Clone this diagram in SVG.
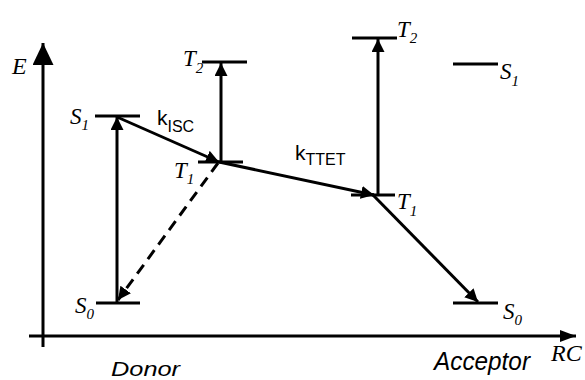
<svg xmlns="http://www.w3.org/2000/svg" width="585" height="380" viewBox="0 0 585 380">
<style>
.lvl{stroke:#000;stroke-width:3;fill:none}
.ax{stroke:#000;stroke-width:3;fill:none}
.c{stroke:#000;stroke-width:3;fill:none}
.dash{stroke-dasharray:11 7}
.ser{font-family:"Liberation Serif","Times New Roman",serif;font-style:italic;fill:#000}
.big{font-size:23px}
.sub{font-size:15px}
.sans{font-family:"Liberation Sans",Arial,sans-serif;fill:#000}
</style>
<defs>
<marker id="ah" markerUnits="userSpaceOnUse" markerWidth="14" markerHeight="14" refX="13" refY="6.5" orient="auto" viewBox="0 0 14 14">
<path d="M0,0 L13,6.5 L0,13 z" fill="#000"/>
</marker>
<marker id="axy" markerUnits="userSpaceOnUse" markerWidth="24" markerHeight="24" refX="22" refY="10.5" orient="auto" viewBox="0 0 24 24">
<path d="M0,0 L22,10.5 L0,21 z" fill="#000"/>
</marker>
<marker id="axx" markerUnits="userSpaceOnUse" markerWidth="18" markerHeight="14" refX="16" refY="6" orient="auto" viewBox="0 0 18 14">
<path d="M0,0 L16,6 L0,12 z" fill="#000"/>
</marker>
</defs>
<rect width="585" height="380" fill="#fff"/>
<g id="axes">
<line class="ax" x1="43" y1="347" x2="43" y2="43" marker-end="url(#axy)"/>
<line class="ax" x1="29" y1="336" x2="576" y2="336" marker-end="url(#axx)"/>
<text class="ser" x="12" y="74" font-size="24">E</text>
<text class="ser" x="551" y="361" font-size="24">RC</text>
<text class="sans" x="111" y="376" font-size="21" font-style="italic" textLength="69" lengthAdjust="spacingAndGlyphs">Donor</text>
<text class="sans" x="434" y="370" font-size="26" font-style="italic" textLength="96" lengthAdjust="spacingAndGlyphs">Acceptor</text>
</g>
<g id="connectors">
<line class="c" x1="117" y1="302" x2="117" y2="117" marker-end="url(#ah)"/>
<line class="c" x1="117" y1="117" x2="219" y2="162" marker-end="url(#ah)"/>
<line class="c" x1="221" y1="162" x2="221" y2="63" marker-end="url(#ah)"/>
<line class="c dash" x1="218" y1="163" x2="118" y2="300" marker-end="url(#ah)"/>
<line class="c" x1="219" y1="162" x2="374" y2="195" marker-end="url(#ah)"/>
<line class="c" x1="378" y1="195" x2="378" y2="39" marker-end="url(#ah)"/>
<line class="c" x1="372" y1="194" x2="478" y2="302" marker-end="url(#ah)"/>
<text class="sans" x="157" y="125" font-size="21">k<tspan font-size="16" dy="7">ISC</tspan></text>
<text class="sans" x="295" y="160" font-size="21">k<tspan font-size="16" dy="5">TTET</tspan></text>
</g>
<g id="donor-S1">
<line class="lvl" x1="95" y1="116" x2="140" y2="116"/>
<text class="ser big" x="70" y="124">S<tspan class="sub" dy="6">1</tspan></text>
</g>
<g id="donor-S0">
<line class="lvl" x1="96" y1="303" x2="140" y2="303"/>
<text class="ser big" x="75" y="313">S<tspan class="sub" dy="6">0</tspan></text>
</g>
<g id="donor-T1">
<line class="lvl" x1="198" y1="162" x2="243" y2="162"/>
<text class="ser big" x="174" y="178">T<tspan class="sub" dy="6">1</tspan></text>
</g>
<g id="donor-T2">
<line class="lvl" x1="202" y1="62" x2="247" y2="62"/>
<text class="ser big" x="183" y="66">T<tspan class="sub" dy="7">2</tspan></text>
</g>
<g id="acceptor-T1">
<line class="lvl" x1="351" y1="195" x2="395" y2="195"/>
<text class="ser big" x="397" y="209">T<tspan class="sub" dy="7">1</tspan></text>
</g>
<g id="acceptor-T2">
<line class="lvl" x1="352" y1="38" x2="397" y2="38"/>
<text class="ser big" x="397" y="37">T<tspan class="sub" dy="6">2</tspan></text>
</g>
<g id="acceptor-S1">
<line class="lvl" x1="453" y1="64" x2="498" y2="64"/>
<text class="ser big" x="500" y="79">S<tspan class="sub" dy="7">1</tspan></text>
</g>
<g id="acceptor-S0">
<line class="lvl" x1="453" y1="303" x2="498" y2="303"/>
<text class="ser big" x="503" y="319">S<tspan class="sub" dy="6">0</tspan></text>
</g>
</svg>
